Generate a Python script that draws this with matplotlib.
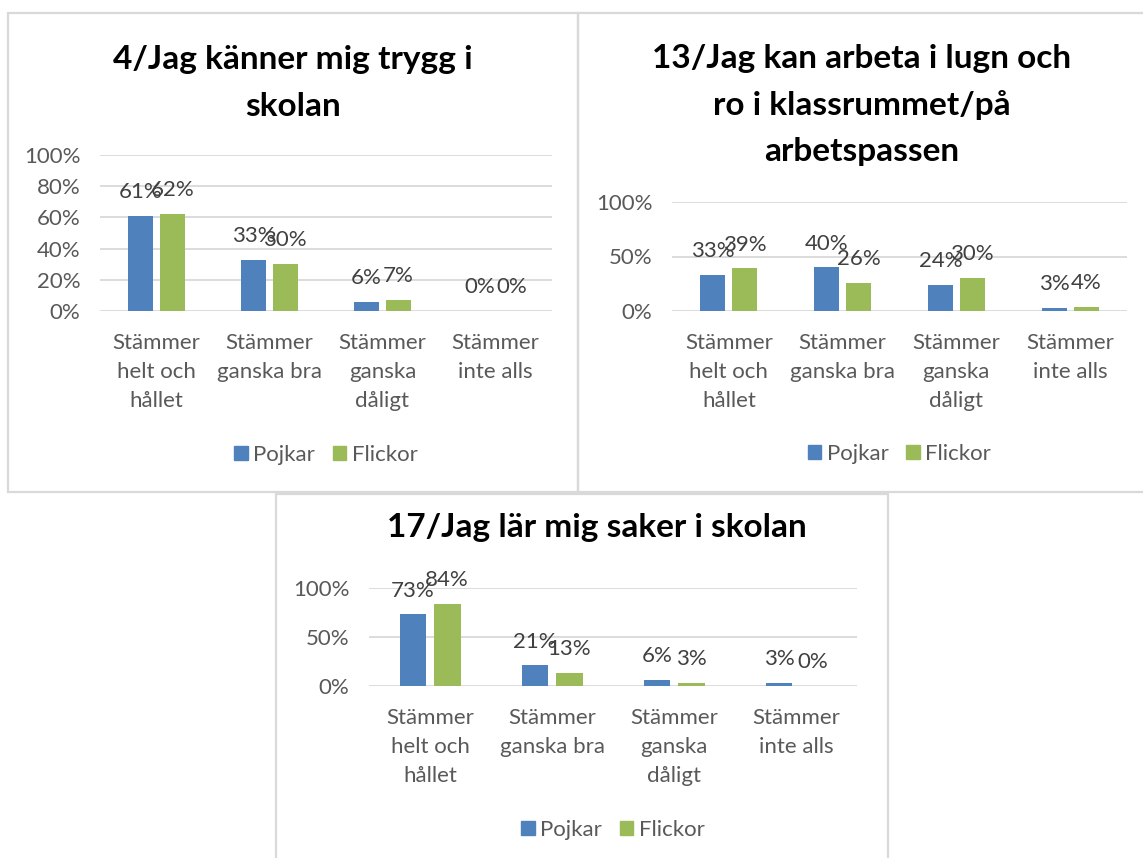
import matplotlib.pyplot as plt
from matplotlib.patches import Rectangle, Patch
from matplotlib.ticker import PercentFormatter

# =========================
# DATA
# =========================
categories = ["Stämmer\nhelt och\nhållet", "Stämmer\nganska bra",
              "Stämmer\nganska\ndåligt", "Stämmer\ninte alls"]
series_names = ["Pojkar", "Flickor"]

q4_pojkar = [0.61, 0.33, 0.06, 0.00]
q4_flickor = [0.62, 0.30, 0.07, 0.00]

q13_pojkar = [0.33, 0.40, 0.24, 0.03]
q13_flickor = [0.39, 0.26, 0.30, 0.04]

q17_pojkar = [0.73, 0.21, 0.06, 0.03]
q17_flickor = [0.84, 0.13, 0.03, 0.00]

title_4 = "4/Jag känner mig trygg i\nskolan"
title_13 = "13/Jag kan arbeta i lugn och\nro i klassrummet/på\narbetspassen"
title_17 = "17/Jag lär mig saker i skolan"

# =========================
# STYLE
# =========================
plt.rcParams["font.family"] = ["Lato", "DejaVu Sans"]
BLUE = "#4F81BD"
GREEN = "#9BBB59"
GRID = "#D9D9D9"
TICK = "#595959"
LABEL = "#404040"
FS = 16

W, H = 1143, 858
fig = plt.figure(figsize=(W / 100, H / 100), dpi=100)


def px_axes(x0, x1, ytop, ybot):
    return fig.add_axes([x0 / W, 1 - ybot / H, (x1 - x0) / W, (ybot - ytop) / H])


def box(x0, y0, x1, y1):
    fig.add_artist(Rectangle((x0 / W, 1 - y1 / H), (x1 - x0) / W, (y1 - y0) / H,
                             transform=fig.transFigure, fill=False,
                             edgecolor=GRID, linewidth=1.6))


def draw_panel(ax, pojkar, flickor, step, legend_y):
    x = range(len(categories))
    w = 0.22
    off = 0.14
    b1 = ax.bar([i - off for i in x], pojkar, w, color=BLUE, zorder=3)
    b2 = ax.bar([i + off for i in x], flickor, w, color=GREEN, zorder=3)
    for bars, vals in ((b1, pojkar), (b2, flickor)):
        for r, v in zip(bars, vals):
            ax.annotate(f"{round(v * 100):d}%", (r.get_x() + r.get_width() / 2, v),
                        xytext=(0, 10), textcoords="offset points",
                        ha="center", va="bottom", fontsize=FS, color=LABEL, zorder=4)
    ax.set_xlim(-0.5, len(categories) - 0.5)
    ax.set_ylim(0, 1)
    ticks = [i * step for i in range(int(round(1 / step)) + 1)]
    ax.set_yticks(ticks)
    ax.yaxis.set_major_formatter(PercentFormatter(1.0, decimals=0))
    ax.grid(axis="y", color=GRID, linewidth=1.3, zorder=0)
    ax.set_axisbelow(True)
    for s in ax.spines.values():
        s.set_visible(False)
    ax.set_xticks(list(x))
    ax.set_xticklabels(categories, fontsize=FS, color=TICK, linespacing=1.55)
    ax.tick_params(axis="both", length=0, labelsize=FS, colors=TICK)
    ax.tick_params(axis="y", pad=14)
    ax.tick_params(axis="x", pad=16)
    handles = [Patch(color=BLUE), Patch(color=GREEN)]
    ax.legend(handles, series_names, loc="center", bbox_to_anchor=(0.5, legend_y),
              ncol=2, frameon=False, fontsize=FS, labelcolor=TICK,
              handlelength=0.6, handleheight=0.6, handletextpad=0.25, columnspacing=0.8)


# panel frames
box(8, 13, 578, 492)
box(578, 13, 1150, 492)
box(276, 494, 888, 870)

# panel 1
ax1 = px_axes(100, 552, 155, 311)
draw_panel(ax1, q4_pojkar, q4_flickor, 0.2, -0.92)
fig.text(293 / W, 1 - 83 / H, title_4, ha="center", va="center", fontsize=24,
         fontweight="bold", linespacing=1.75)

# panel 2
ax2 = px_axes(672, 1127, 202, 311)
draw_panel(ax2, q13_pojkar, q13_flickor, 0.5, -1.31)
fig.text(862 / W, 1 - 105 / H, title_13, ha="center", va="center", fontsize=24,
         fontweight="bold", linespacing=1.7)

# panel 3
ax3 = px_axes(369, 857, 588, 686)
draw_panel(ax3, q17_pojkar, q17_flickor, 0.5, -1.47)
fig.text(597 / W, 1 - 527 / H, title_17, ha="center", va="center", fontsize=24,
         fontweight="bold")

fig.savefig("out.png", dpi=100)
